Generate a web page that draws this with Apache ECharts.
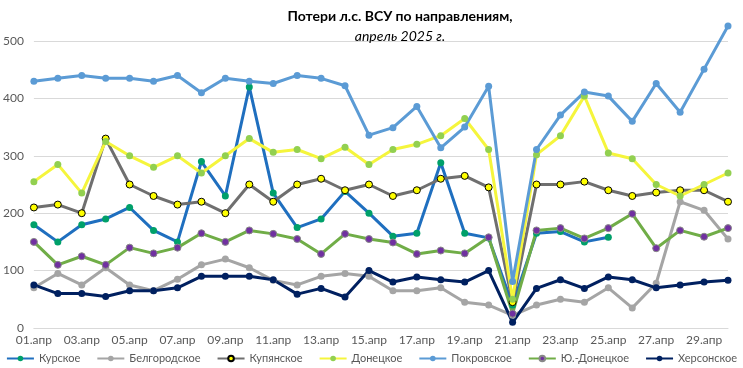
<!DOCTYPE html>
<html><head><meta charset="utf-8">
<script src="https://cdn.jsdelivr.net/npm/echarts@6/dist/echarts.min.js"></script>
<style>html,body{margin:0;padding:0;background:#fff}#c{width:743px;height:368px}</style>
</head><body><div id="c"></div>
<script>
const categories = ['01.апр','02.апр','03.апр','04.апр','05.апр','06.апр','07.апр','08.апр','09.апр','10.апр','11.апр','12.апр','13.апр','14.апр','15.апр','16.апр','17.апр','18.апр','19.апр','20.апр','21.апр','22.апр','23.апр','24.апр','25.апр','26.апр','27.апр','28.апр','29.апр','30.апр'];
const kursk = [180,150,180,190,210,170,150,290,230,420,235,175,190,238,200,160,165,288,165,157,40,165,168,150,158,null,null,null,null,null];
const belgorod = [70,95,75,105,75,65,85,110,120,105,83,75,90,95,90,65,65,70,45,40,22,40,50,45,70,35,78,220,205,155];
const kupyansk = [210,215,200,330,250,230,215,220,200,250,220,250,260,240,250,230,240,260,265,245,45,250,250,255,240,230,236,240,240,220];
const donetsk = [255,285,235,325,300,280,300,270,300,330,306,311,295,315,285,311,320,335,365,311,50,302,335,404,305,295,250,230,250,270];
const pokrovsk = [430,435,440,435,435,430,440,410,435,430,426,440,435,422,336,349,386,314,350,421,81,311,371,411,404,360,426,376,451,526];
const yuDonetsk = [150,110,125,110,140,130,140,165,150,170,164,155,129,164,155,149,129,135,130,158,25,170,174,156,174,199,139,170,159,174];
const kherson = [75,60,60,55,65,65,70,90,90,90,84,59,69,54,100,80,89,84,80,100,10,69,84,69,89,84,70,75,80,83];
const yTicks = [0,100,200,300,400,500];

const FONT = 'Lato';
function s(name, data, line, marker, border) {
  return {
    name, type: 'line', data, clip: false,
    symbol: 'circle', symbolSize: 7,
    lineStyle: { color: line, width: 3 },
    itemStyle: { color: marker, borderColor: border || marker, borderWidth: border ? 1 : 0 },
    color: line,
    emphasis: { disabled: true }
  };
}
const chart = echarts.init(document.getElementById('c'));
chart.setOption({
  animation: false,
  title: {
    text: 'Потери л.с. ВСУ по направлениям,',
    subtext: 'апрель 2025 г.',
    left: 395, top: 4, textAlign: 'center', itemGap: 6,
    textStyle: { fontFamily: FONT, fontSize: 14, fontWeight: 'bold', color: '#000' },
    subtextStyle: { fontFamily: FONT, fontSize: 14, fontStyle: 'italic', color: '#000' }
  },
  grid: { left: 30, right: 15, top: 41, bottom: 40 },
  legend: {
    bottom: 4, left: 'center', padding: 0, itemGap: 16, itemWidth: 27, itemHeight: 7,
    textStyle: { fontFamily: FONT, fontSize: 11, color: '#595959' },
    data: ['Курское','Белгородское','Купянское','Донецкое','Покровское','Ю.-Донецкое','Херсонское']
  },
  xAxis: {
    type: 'category', data: categories, boundaryGap: false,
    axisLine: { lineStyle: { color: '#d9d9d9' } },
    axisTick: { show: false },
    axisLabel: { interval: 1, fontFamily: FONT, fontSize: 12, color: '#595959', margin: 6 }
  },
  yAxis: {
    type: 'value', min: yTicks[0], max: yTicks[yTicks.length-1], interval: 100,
    axisLine: { show: false }, axisTick: { show: false },
    splitLine: { lineStyle: { color: '#d9d9d9' } },
    axisLabel: { fontFamily: FONT, fontSize: 12, color: '#595959', margin: 10 }
  },
  series: [
    s('Курское', kursk, '#1f6fbf', '#00a06a'),
    s('Белгородское', belgorod, '#a5a5a5', '#a5a5a5'),
    s('Купянское', kupyansk, '#6f6f6f', '#ffff00', '#000'),
    s('Донецкое', donetsk, '#f5f53c', '#92d050'),
    s('Покровское', pokrovsk, '#5b9bd5', '#5b9bd5'),
    s('Ю.-Донецкое', yuDonetsk, '#70ad47', '#7030a0', '#888'),
    s('Херсонское', kherson, '#002060', '#002060')
  ]
});
</script></body></html>
